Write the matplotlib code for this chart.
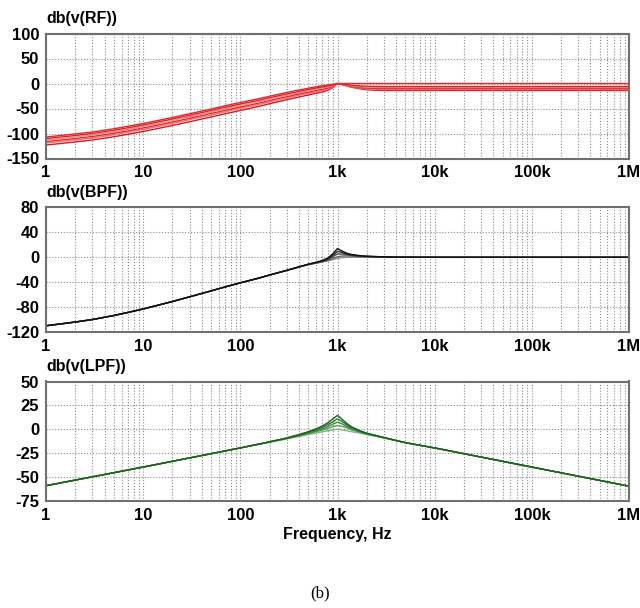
import matplotlib
matplotlib.use("Agg")
import matplotlib.pyplot as plt
from matplotlib.ticker import FixedLocator, LogLocator, NullFormatter

plt.rcParams['font.family'] = ['Liberation Sans', 'DejaVu Sans']

# ---------------- data ----------------
x_ticks = [1, 10, 100, 1e3, 1e4, 1e5, 1e6]
x_ticklabels = ['1', '10', '100', '1k', '10k', '100k', '1M']

# Top panel: db(v(RF))
f_rf = [1, 2, 3, 5, 7, 10, 15, 20, 30, 50, 70, 100, 150, 200, 300, 400, 500, 600, 700, 800, 900, 1000,
        1100, 1250, 1400, 1700, 2000, 2500, 3000, 5000, 1e4, 1e5, 1e6]
rf_1 = [-107, -101, -97, -90.5, -85.5, -80, -73, -68, -60.5, -51, -44.5, -38, -31, -25.5, -18, -13, -9.5, -6.5, -4.5, -3, -1.5, 0,
        0, 0, 0, 0, 0, 0, 0, 0, 0, 0, 0]
rf_2 = [-110, -104, -100, -93.5, -88.5, -83, -76, -71, -63.5, -54, -47.5, -41, -34, -28.5, -21, -15.8, -12.2, -9, -6.8, -5, -2.8, 0,
        -1, -2.5, -3.5, -4.8, -5.4, -5.8, -6, -6, -6, -6, -6]
rf_3 = [-113, -107, -103, -96.5, -91.5, -86, -79, -74, -66.5, -57, -50.5, -44, -37, -31.5, -23.8, -18.5, -14.8, -11.5, -9, -7, -4, 0,
        -1.3, -3.3, -4.8, -6.3, -7.2, -7.7, -8, -8, -8, -8, -8]
rf_4 = [-116, -110, -106, -99.5, -94.5, -89, -82, -77, -69.5, -60, -53.5, -47, -39.8, -34, -26.3, -21, -17.2, -13.8, -11.5, -9, -5.2, 0,
        -1.6, -4, -5.8, -8, -9, -9.6, -10, -10, -10, -10, -10]
rf_5 = [-119, -113, -109, -102.5, -97.5, -92, -85, -80, -72.5, -63, -56.5, -50, -42.7, -37, -29, -23.5, -19.7, -16.3, -14, -11.2, -6.5, 0,
        -1.8, -4.5, -6.6, -9.2, -10.8, -11.5, -12, -12, -12, -12, -12]
rf_6 = [-123, -117, -113, -106.5, -101.5, -96, -89, -84, -76.5, -67, -60.5, -54, -46.5, -40.5, -32.5, -27, -23, -19.5, -17, -13.5, -8, 0,
        -2, -5, -7.5, -10.5, -12.5, -13.5, -14, -14, -14, -14, -14]
rf_series = [rf_6, rf_5, rf_4, rf_3, rf_2, rf_1]
rf_colors = ['#cc1d22', '#ef7070', '#e02a2f', '#f08a8a', '#d92328', '#e3262c']
rf_yticks = [100, 50, 0, -50, -100, -150]

# Middle panel: db(v(BPF))
f_bpf = [1, 2, 3, 5, 7, 10, 15, 20, 30, 50, 70, 100, 150, 200, 300, 400, 500, 600, 700, 800, 900, 1000,
         1100, 1250, 1400, 1700, 2000, 3000, 4000, 1e4, 1e5, 1e6]
bpf_1 = [-110, -104, -100, -93.5, -88.5, -83, -76, -71, -63.5, -54, -47.5, -41, -34, -28.5, -21, -15.5, -11, -8, -5, -1, 6, 14,
         10.5, 6.5, 4.5, 2.7, 1.8, 0.7, 0.3, 0, 0, 0]
bpf_2 = [-110, -104, -100, -93.5, -88.5, -83, -76, -71, -63.5, -54, -47.5, -41, -34, -28.5, -21, -15.5, -11.3, -8.5, -6, -2.5, 3.5, 9.5,
         8, 5.3, 3.7, 2.2, 1.5, 0.6, 0.2, 0, 0, 0]
bpf_3 = [-110, -104, -100, -93.5, -88.5, -83, -76, -71, -63.5, -54, -47.5, -41, -34, -28.5, -21, -15.5, -11.5, -9, -6.5, -3.5, 1, 5.5,
         5.3, 4, 3, 1.8, 1.2, 0.5, 0.2, 0, 0, 0]
bpf_4 = [-110, -104, -100, -93.5, -88.5, -83, -76, -71, -63.5, -54, -47.5, -41, -34, -28.5, -21, -15.5, -11.7, -9.3, -7, -5, -2, 1,
         2, 2.2, 1.8, 1.2, 0.8, 0.3, 0.1, 0, 0, 0]
bpf_5 = [-110, -104, -100, -93.5, -88.5, -83, -76, -71, -63.5, -54, -47.5, -41, -34, -28.5, -21, -15.5, -12, -9.5, -7.5, -5.5, -3.5, -1.5,
         -0.5, 0, 0.1, 0.1, 0.1, 0, 0, 0, 0, 0]
bpf_series = [bpf_5, bpf_4, bpf_3, bpf_2, bpf_1]
bpf_colors = ['#8a8a8a', '#6a6a6a', '#4a4a4a', '#2a2a2a', '#111111']
bpf_yticks = [80, 40, 0, -40, -80, -120]

# Bottom panel: db(v(LPF))
f_lpf = [1, 10, 100, 200, 300, 400, 500, 600, 700, 800, 900, 1000, 1100, 1250, 1400, 1700, 2000, 3000, 5000, 1e4, 1e5, 1e6]
lpf_1 = [-59, -39.5, -19.5, -13, -9, -5.5, -2.5, 0.5, 3.5, 7, 11, 14.5, 11, 6, 2.5, -1.5, -4, -8.5, -14, -19.5, -39.5, -59.5]
lpf_2 = [-59, -39.5, -19.5, -13.2, -9.3, -6, -3.2, -0.5, 2, 5, 8, 11, 8.5, 4.5, 1.5, -2, -4.3, -8.7, -14, -19.5, -39.5, -59.5]
lpf_3 = [-59, -39.5, -19.5, -13.3, -9.5, -6.5, -3.8, -1.5, 0.5, 3, 5.5, 7.5, 6, 3, 0.5, -2.5, -4.7, -8.8, -14, -19.5, -39.5, -59.5]
lpf_4 = [-59, -39.5, -19.5, -13.4, -9.7, -7, -4.5, -2.5, -0.8, 1, 2.8, 4, 3.3, 1.5, -0.5, -3, -5, -8.9, -14, -19.5, -39.5, -59.5]
lpf_5 = [-59, -39.5, -19.5, -13.5, -10, -7.5, -5.5, -4, -2.6, -1.5, -0.6, 0, -0.5, -1.5, -2.5, -4, -5.5, -9, -14, -19.5, -39.5, -59.5]
lpf_series = [lpf_5, lpf_4, lpf_3, lpf_2, lpf_1]
lpf_colors = ['#7fb57f', '#5a9a5a', '#3f8a3f', '#2f7a2f', '#1f5f1f']
lpf_yticks = [50, 25, 0, -25, -50, -75]

titles = ['db(v(RF))', 'db(v(BPF))', 'db(v(LPF))']
xlabel = 'Frequency, Hz'
caption = '(b)'

# ---------------- figure ----------------
fig = plt.figure(figsize=(6.4, 6.08), dpi=100)
W, H = 640, 608
left_px, right_px = 46, 629
panels = [(33.5, 158.5), (207.5, 332), (381.5, 501)]

def make_ax(top, bot):
    return fig.add_axes([left_px / W, (H - bot) / H, (right_px - left_px) / W, (bot - top) / H])

grid_kw = dict(color='#8c8c8c', linestyle=(0, (1, 1.6)), linewidth=0.8)

def style(ax, yticks, title):
    ax.set_xscale('log')
    ax.set_xlim(1, 1e6)
    ax.set_ylim(min(yticks), max(yticks))
    ax.set_yticks(yticks)
    ax.set_yticklabels([str(v) for v in yticks], fontsize=12, fontweight='bold')
    ax.xaxis.set_major_locator(FixedLocator(x_ticks))
    ax.xaxis.set_minor_locator(LogLocator(base=10, subs=range(2, 10), numticks=20))
    ax.xaxis.set_minor_formatter(NullFormatter())
    ax.set_xticklabels(x_ticklabels, fontsize=12, fontweight='bold')
    ax.tick_params(which='both', length=0, pad=5)
    ax.grid(True, which='major', axis='both', **grid_kw)
    ax.grid(True, which='minor', axis='x', **grid_kw)
    ax.set_axisbelow(True)
    for s in ax.spines.values():
        s.set_color('#707070')
        s.set_linewidth(1.5)
    ax.text(0.0, 1.06, title, transform=ax.transAxes, ha='left', va='bottom',
            fontsize=11.5, fontweight='bold')

ax1 = make_ax(*panels[0])
for y, c in zip(rf_series, rf_colors):
    ax1.plot(f_rf, y, color=c, linewidth=1.0)
style(ax1, rf_yticks, titles[0])

ax2 = make_ax(*panels[1])
for y, c in zip(bpf_series, bpf_colors):
    ax2.plot(f_bpf, y, color=c, linewidth=1.0)
style(ax2, bpf_yticks, titles[1])

ax3 = make_ax(*panels[2])
for y, c in zip(lpf_series, lpf_colors):
    ax3.plot(f_lpf, y, color=c, linewidth=1.0)
style(ax3, lpf_yticks, titles[2])
ax3.set_xlabel(xlabel, fontsize=11.5, fontweight='bold', labelpad=3)

fig.text(320 / W, 1 - 593 / H, caption, ha='center', va='center',
         fontsize=12, family=['Liberation Serif', 'DejaVu Serif'])

fig.savefig('out.png', dpi=100)
